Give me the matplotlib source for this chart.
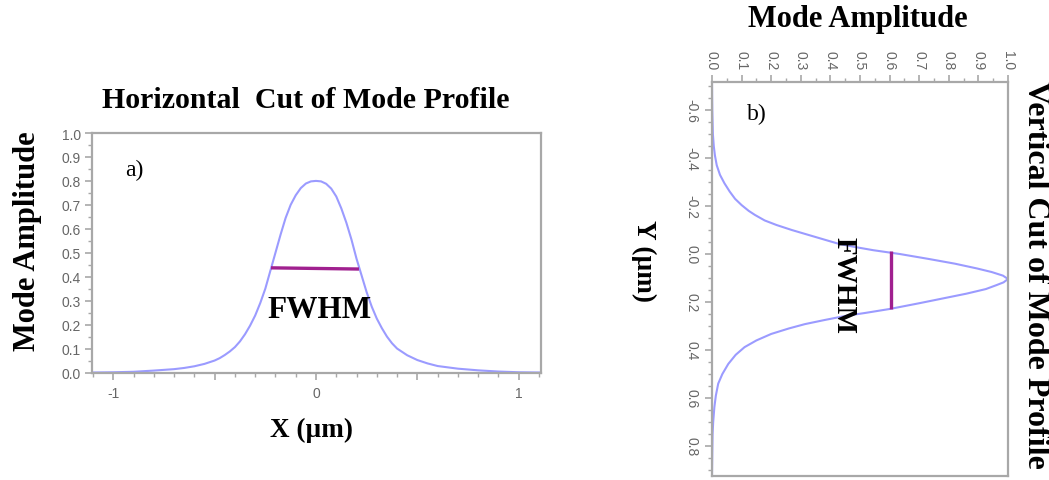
import matplotlib
matplotlib.use("Agg")
import matplotlib.pyplot as plt
from matplotlib.ticker import MultipleLocator, FixedLocator

W, H = 1049, 481

# panel a: horizontal cut (x in um, mode amplitude)
x_a = [-1.105, -1.0, -0.9, -0.8, -0.7, -0.65, -0.6, -0.55, -0.5, -0.475, -0.45,
       -0.425, -0.4, -0.375, -0.35, -0.325, -0.3, -0.275, -0.25, -0.225, -0.2,
       -0.175, -0.15, -0.125, -0.1, -0.075, -0.05, -0.025, 0.0,
       0.025, 0.05, 0.075, 0.1, 0.125, 0.15, 0.175, 0.2, 0.225, 0.25, 0.275,
       0.3, 0.325, 0.35, 0.375, 0.4, 0.45, 0.5, 0.55, 0.6, 0.7, 0.8, 0.9, 1.0,
       1.11]
amp_a = [0.0, 0.001, 0.003, 0.008, 0.014, 0.019, 0.026, 0.036, 0.05, 0.06, 0.073,
         0.088, 0.106, 0.13, 0.16, 0.196, 0.238, 0.29, 0.35, 0.425, 0.50,
         0.575, 0.645, 0.70, 0.74, 0.77, 0.789, 0.798, 0.80,
         0.798, 0.788, 0.768, 0.735, 0.685, 0.625, 0.555, 0.475, 0.405, 0.335,
         0.275, 0.225, 0.185, 0.15, 0.122, 0.10, 0.072, 0.052, 0.038, 0.027,
         0.016, 0.009, 0.004, 0.001, 0.0]
fwhm_a_x = [-0.222, 0.212]
fwhm_a_y = [0.437, 0.432]

# panel b: vertical cut (y in um, mode amplitude)
y_b = [-0.72, -0.65, -0.6, -0.55, -0.5, -0.45, -0.41, -0.37, -0.33, -0.295,
       -0.26, -0.23, -0.204, -0.18, -0.163, -0.14, -0.121, -0.1, -0.08, -0.06,
       -0.043, -0.03, -0.016, 0.0, 0.02, 0.04, 0.06, 0.075, 0.09, 0.104,
       0.118, 0.13, 0.146, 0.165, 0.18, 0.205, 0.229, 0.245, 0.258, 0.275,
       0.292, 0.31, 0.333, 0.36, 0.388, 0.42, 0.458, 0.5, 0.54, 0.59, 0.638,
       0.7, 0.75, 0.83, 0.925]
amp_b = [0.0, 0.0005, 0.001, 0.002, 0.003, 0.006, 0.01, 0.016, 0.027, 0.042,
         0.06, 0.078, 0.10, 0.124, 0.145, 0.178, 0.218, 0.27, 0.325, 0.38,
         0.427, 0.48, 0.545, 0.635, 0.73, 0.82, 0.895, 0.945, 0.983, 1.0,
         0.985, 0.96, 0.925, 0.86, 0.80, 0.70, 0.60, 0.52, 0.45, 0.38,
         0.314, 0.26, 0.20, 0.15, 0.11, 0.08, 0.055, 0.035, 0.021, 0.013, 0.008,
         0.004, 0.002, 0.001, 0.0]
fwhm_b_x = [0.604, 0.604]
fwhm_b_y = [-0.012, 0.229]

a_xticks = [-1, -0.5, 0, 0.5, 1]
a_xticklabels = ["-1", "", "0", "", "1"]
a_yticks = [i / 10 for i in range(11)]
b_xticks = [i / 10 for i in range(11)]
b_yticks = [-0.6, -0.4, -0.2, 0.0, 0.2, 0.4, 0.6, 0.8]

CURVE = "#9b9bff"
FWHM = "#a0208f"
GREY = "#a8a8a8"
TICKC = "#666666"
SERIF = "Liberation Serif"
SANS = "Liberation Sans"


def px(x, y):
    return x / W, 1 - y / H


def style(ax):
    for s in ax.spines.values():
        s.set_color(GREY)
        s.set_linewidth(1.6)
    ax.tick_params(which="both", color=GREY, labelcolor=TICKC, labelsize=10,
                   direction="out")
    ax.tick_params(which="major", length=5, width=1.2)
    ax.tick_params(which="minor", length=3, width=1.0)
    for lab in ax.get_xticklabels() + ax.get_yticklabels():
        lab.set_fontfamily(SANS)


fig = plt.figure(figsize=(W / 100, H / 100), dpi=100)

# ---- panel a
ax_a = fig.add_axes([92 / W, (H - 373.5) / H, (541 - 92) / W, (373.5 - 134) / H])
ax_a.plot(x_a, amp_a, color=CURVE, lw=1.5)
ax_a.plot(fwhm_a_x, fwhm_a_y, color=FWHM, lw=2.4, solid_capstyle="butt")
ax_a.set_xlim(-1.105, 1.11)
ax_a.set_ylim(0, 1.0)
ax_a.xaxis.set_major_locator(FixedLocator(a_xticks))
ax_a.set_xticklabels(a_xticklabels)
ax_a.xaxis.set_minor_locator(MultipleLocator(0.1))
ax_a.set_yticks(a_yticks)
ax_a.set_yticklabels([f"{v:.1f}" for v in a_yticks])
ax_a.yaxis.set_minor_locator(MultipleLocator(0.05))
style(ax_a)
ax_a.tick_params(axis="x", pad=5)
ax_a.tick_params(axis="y", pad=3)

# ---- panel b (rotated view)
ax_b = fig.add_axes([712 / W, (H - 477) / H, (1008 - 712) / W, (477 - 83) / H])
ax_b.plot(amp_b, y_b, color=CURVE, lw=1.5)
ax_b.plot(fwhm_b_x, fwhm_b_y, color=FWHM, lw=2.4, solid_capstyle="butt")
ax_b.set_xlim(0, 1.0)
ax_b.set_ylim(0.925, -0.717)
ax_b.xaxis.tick_top()
ax_b.set_xticks(b_xticks)
ax_b.set_xticklabels([f"{v:.1f}" for v in b_xticks], rotation=-90)
ax_b.xaxis.set_minor_locator(MultipleLocator(0.05))
ax_b.set_yticks(b_yticks)
ax_b.set_yticklabels([f"{v:.1f}" for v in b_yticks], rotation=-90, va="center")
ax_b.yaxis.set_minor_locator(MultipleLocator(0.05))
style(ax_b)
ax_b.tick_params(axis="x", pad=4)
ax_b.tick_params(axis="y", pad=5)

# ---- texts
bold = dict(family=SERIF, weight="bold", color="black")
fig.text(*px(306, 101), "Horizontal  Cut of Mode Profile", ha="center",
         va="center", fontsize=21.5, **bold)
fig.text(*px(28, 241), "Mode Amplitude", ha="center", va="center",
         rotation=90, fontsize=22, **bold)
fig.text(*px(312, 430), "X (µm)", ha="center", va="center", fontsize=19.5, **bold)
fig.text(*px(320, 311), "FWHM", ha="center", va="center", fontsize=22.5, **bold)
fig.text(*px(125, 170), "a)", ha="left", va="center", fontsize=17,
         family=SERIF, color="black")

fig.text(*px(858, 19), "Mode Amplitude", ha="center", va="center",
         fontsize=22, **bold)
fig.text(*px(747, 114), "b)", ha="left", va="center", fontsize=17,
         family=SERIF, color="black")
fig.text(*px(644, 261), "Y (µm)", ha="center", va="center", rotation=-90,
         fontsize=19.5, **bold)
fig.text(*px(1035, 275), "Vertical Cut of Mode Profile", ha="center",
         va="center", rotation=-90, fontsize=23, **bold)
fig.text(*px(844, 286), "FWHM", ha="center", va="center", rotation=-90,
         fontsize=21, **bold)

fig.savefig("out.png", dpi=100, facecolor="white")
